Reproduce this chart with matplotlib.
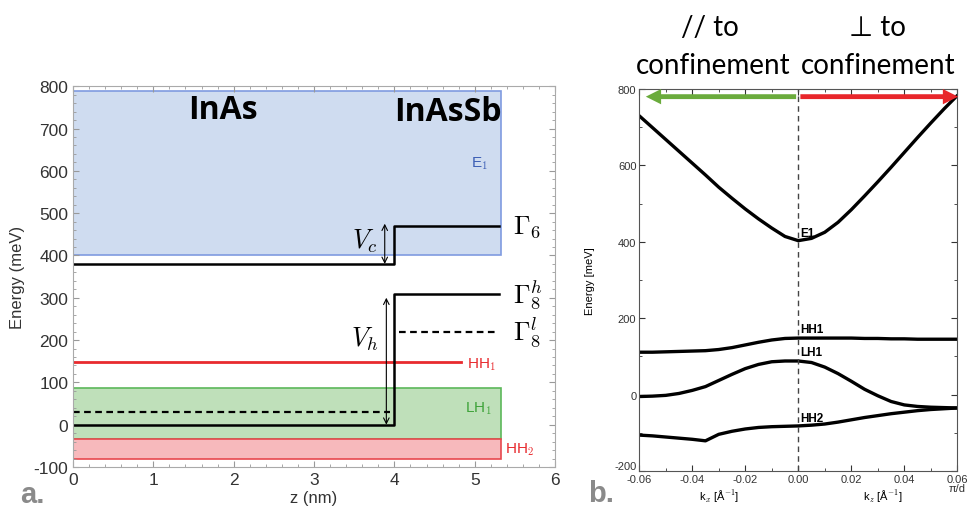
import matplotlib.pyplot as plt
from matplotlib.patches import Rectangle
from matplotlib.ticker import AutoMinorLocator, MultipleLocator
import matplotlib.transforms as mtransforms

plt.rcParams["font.family"] = ["Liberation Sans", "DejaVu Sans"]
plt.rcParams["mathtext.fontset"] = "cm"
plt.rcParams["axes.unicode_minus"] = False

# ---- panel a: band edges of the InAs / InAsSb interface ----
Z_STEP = 4.0          # interface position (nm)
Z_END = 5.3           # end of the drawn profile (nm)
GAMMA6 = [380, 470]   # conduction edge: InAs, InAsSb (meV)
GAMMA8H = [0, 310]    # heavy-hole edge
GAMMA8L = [30, 220]   # light-hole edge
E1_BAND = [400, 788]
LH1_BAND = [-33, 87]
HH2_BAND = [-80, -33]
HH1_LEVEL = 147
HH1_END = 4.83

# ---- panel b: dispersion ----
K = [-0.06, -0.055, -0.05, -0.045, -0.04, -0.035, -0.03, -0.025, -0.02, -0.015,
     -0.01, -0.005, 0.0, 0.005, 0.01, 0.015, 0.02, 0.025, 0.03, 0.035, 0.04,
     0.045, 0.05, 0.055, 0.06]
E1 = [730, 699, 668, 637, 606, 575, 543, 514, 486, 460, 436, 414, 403, 409,
      425, 451, 484, 520, 557, 595, 634, 673, 711, 748, 783]
HH1 = [111, 111, 112, 113, 114, 115, 118, 123, 130, 137, 143, 147, 148, 148,
       148, 148, 148, 147, 147, 146, 146, 145, 145, 145, 145]
LH1 = [-5, -4, -2, 3, 11, 21, 37, 53, 68, 79, 86, 88, 88, 84, 72, 55, 35, 14,
       -3, -18, -27, -31, -33, -34, -35]
HH2 = [-106, -108, -111, -114, -117, -121, -104, -96, -90, -86, -84, -83, -82,
       -80, -77, -72, -66, -60, -55, -50, -46, -42, -39, -37, -35]
K_TICKS = [-0.06, -0.04, -0.02, 0.0, 0.02, 0.04, 0.06]
K_TICKLABELS = ["-0.06", "-0.04", "-0.02", "0.00", "0.02", "0.04", "0.06\nπ/d"]
E_TICKS = [-200, 0, 200, 400, 600, 800]

fig = plt.figure(figsize=(9.67, 5.10), dpi=100)
ax1 = fig.add_axes([0.0755, 0.0824, 0.4985, 0.7466])
ax2 = fig.add_axes([0.661, 0.0745, 0.329, 0.749])

# ---------------- panel a ----------------
ax1.add_patch(Rectangle((0, E1_BAND[0]), Z_END + 0.03, E1_BAND[1] - E1_BAND[0],
                        facecolor="#cfdcf0", edgecolor="#7f9be0", lw=1.2))
ax1.add_patch(Rectangle((0, LH1_BAND[0]), Z_END + 0.03, LH1_BAND[1] - LH1_BAND[0],
                        facecolor="#bfe0ba", edgecolor="#5cb85a", lw=1.2))
ax1.add_patch(Rectangle((0, HH2_BAND[0]), Z_END + 0.03, HH2_BAND[1] - HH2_BAND[0],
                        facecolor="#f7b9bc", edgecolor="#e8484e", lw=1.2))
ax1.plot([0, HH1_END], [HH1_LEVEL, HH1_LEVEL], color="#e82a2e", lw=2)

for edge in (GAMMA6, GAMMA8H):
    ax1.plot([0, Z_STEP, Z_STEP, Z_END], [edge[0], edge[0], edge[1], edge[1]],
             color="black", lw=1.8)
ax1.plot([0, Z_STEP - 0.05], [GAMMA8L[0], GAMMA8L[0]], color="black", lw=1.6,
         ls=(0, (3, 2)))
ax1.plot([Z_STEP + 0.06, Z_END], [GAMMA8L[1], GAMMA8L[1]], color="black", lw=1.6,
         ls=(0, (3, 2)))

arrow = dict(arrowstyle="<->", color="black", lw=0.8, shrinkA=0, shrinkB=0)
ax1.annotate("", xy=(3.88, GAMMA6[0]), xytext=(3.88, GAMMA6[1] + 5), arrowprops=arrow)
ax1.annotate("", xy=(3.9, GAMMA8H[0]), xytext=(3.9, GAMMA8H[1] - 10), arrowprops=arrow)
ax1.text(3.63, 435, "$V_c$", fontsize=19, ha="center", va="center")
ax1.text(3.63, 205, "$V_h$", fontsize=19, ha="center", va="center")

ax1.text(5.48, GAMMA6[1], r"$\Gamma_6$", fontsize=19, va="center")
ax1.text(5.48, GAMMA8H[1], r"$\Gamma_8^h$", fontsize=19, va="center")
ax1.text(5.48, GAMMA8L[1], r"$\Gamma_8^l$", fontsize=19, va="center")

ax1.text(5.06, 620, "E$_1$", color="#3d5fb5", fontsize=11, ha="center", va="center")
ax1.text(5.05, 40, "LH$_1$", color="#3ea33a", fontsize=11, ha="center", va="center")
ax1.text(4.91, 145, "HH$_1$", color="#e82a2e", fontsize=11, va="center")
ax1.text(5.38, -57, "HH$_2$", color="#e82a2e", fontsize=11, va="center")

ax1.text(1.86, 745, "InAs", fontsize=23, fontweight="bold",
         family=["Open Sans", "DejaVu Sans"], ha="center", va="center")
ax1.text(4.67, 740, "InAsSb", fontsize=23, fontweight="bold",
         family=["Open Sans", "DejaVu Sans"], ha="center", va="center")

ax1.set_xlim(0, 6)
ax1.set_ylim(-100, 800)
ax1.xaxis.set_major_locator(MultipleLocator(1))
ax1.yaxis.set_major_locator(MultipleLocator(100))
ax1.xaxis.set_minor_locator(AutoMinorLocator(5))
ax1.yaxis.set_minor_locator(AutoMinorLocator(5))
ax1.tick_params(which="both", direction="in", top=True, right=True, colors="#999999",
                labelcolor="#333333", labelsize=12.5)
ax1.tick_params(which="major", length=4)
ax1.tick_params(which="minor", length=2)
for s in ax1.spines.values():
    s.set_color("#aaaaaa")
ax1.set_xlabel("z (nm)", fontsize=12, color="#333333", labelpad=2)
ax1.set_ylabel("Energy (meV)", fontsize=12, color="#333333", labelpad=6)

# ---------------- panel b ----------------
for band in (E1, HH1, LH1, HH2):
    ax2.plot(K, band, color="black", lw=2.4, solid_capstyle="round",
             solid_joinstyle="round")
ax2.axvline(0, color="#444444", lw=1, ls=(0, (4, 3)))

head = "simple,head_length=1.1,head_width=1.1,tail_width=0.35"
ax2.annotate("", xy=(-0.0575, 780), xytext=(-0.0008, 780),
             arrowprops=dict(arrowstyle=head, color="#6aab3c", lw=0,
                             shrinkA=0, shrinkB=0),
             annotation_clip=False)
ax2.annotate("", xy=(0.0603, 780), xytext=(0.0008, 780),
             arrowprops=dict(arrowstyle=head, color="#e8262a", lw=0,
                             shrinkA=0, shrinkB=0),
             annotation_clip=False)

lab = dict(fontsize=8.5, fontweight="bold", va="center", ha="left")
ax2.text(0.0008, 422, "E1", **lab)
ax2.text(0.0008, 172, "HH1", **lab)
ax2.text(0.0008, 112, "LH1", **lab)
ax2.text(0.0008, -62, "HH2", **lab)

ax2.set_xlim(-0.06, 0.06)
ax2.set_ylim(-200, 800)
ax2.set_xticks(K_TICKS)
ax2.set_xticklabels(K_TICKLABELS)
ax2.set_yticks(E_TICKS)
ax2.xaxis.set_minor_locator(MultipleLocator(0.01))
ax2.yaxis.set_minor_locator(MultipleLocator(100))
ax2.tick_params(which="both", direction="in", top=True, right=True, labelsize=8,
                colors="#333333")
ax2.tick_params(axis="x", pad=2)
ax2.tick_params(axis="y", pad=2)
ax2.tick_params(which="major", length=4)
ax2.tick_params(which="minor", length=2)
for lbl in ax2.get_xticklabels():
    lbl.set_linespacing(0.9)
# -200 sits a little higher than the other labels, clear of "-0.06"
low = ax2.yaxis.get_major_ticks()[0].label1
low.set_transform(low.get_transform()
                  + mtransforms.ScaledTranslation(0, 4 / 72, fig.dpi_scale_trans))
for s in ax2.spines.values():
    s.set_color("#555555")
ax2.set_ylabel("Energy [meV]", fontsize=8, labelpad=14)

trans = mtransforms.blended_transform_factory(ax2.transData, fig.transFigure)
ax2.text(-0.03, 1 - 497 / 510, "k$_x$ [Å$^{-1}$]", transform=trans, fontsize=8,
         ha="center", va="center")
ax2.text(0.032, 1 - 497 / 510, "k$_z$ [Å$^{-1}$]", transform=trans, fontsize=8,
         ha="center", va="center")

# titles above panel b
top = dict(fontsize=20, ha="center", va="center", family=["Lato", "DejaVu Sans"])
fig.text(710 / 967, 1 - 28 / 510, "// to", **top)
fig.text(713 / 967, 1 - 66 / 510, "confinement", **top)
fig.text(877 / 967, 1 - 28 / 510, "⊥ to", **top)
fig.text(878 / 967, 1 - 66 / 510, "confinement", **top)

# panel letters
fig.text(20 / 967, 1 - 495 / 510, "a.", fontsize=21, fontweight="bold",
         color="#8a8a8a", va="center")
fig.text(588 / 967, 1 - 494 / 510, "b.", fontsize=21, fontweight="bold",
         color="#8a8a8a", va="center")

fig.savefig("out.png", dpi=100)
